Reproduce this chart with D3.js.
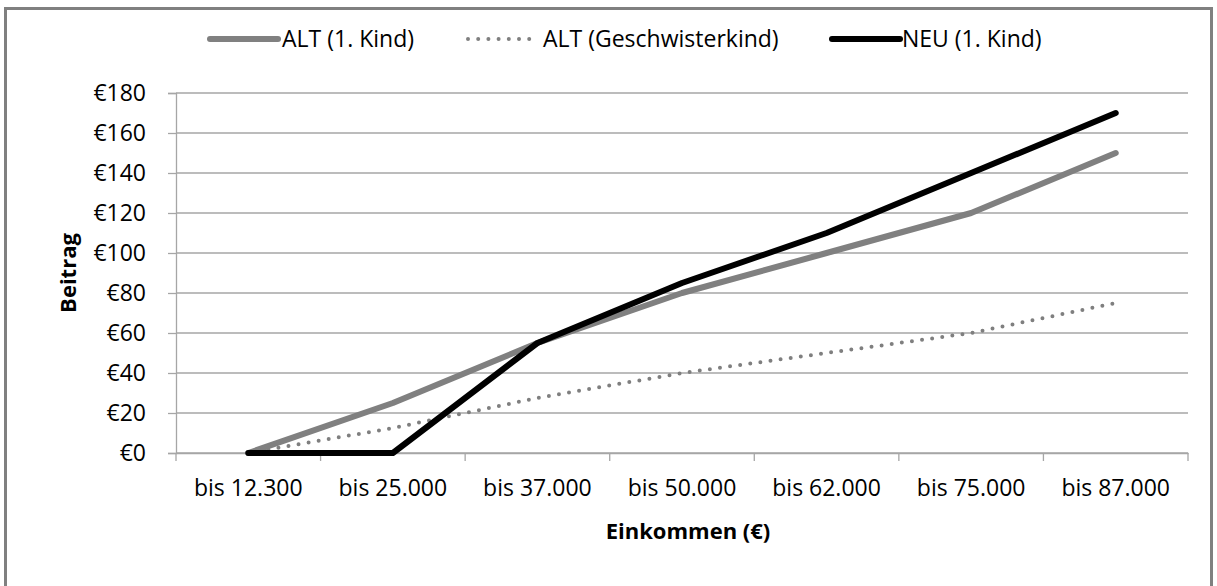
<!DOCTYPE html>
<html><head><meta charset="utf-8">
<script src="https://cdn.jsdelivr.net/npm/d3@7"></script>
<style>
html,body{margin:0;padding:0;background:#fff;}
svg{display:block;}
text{font-family:"Open Sans","Liberation Sans",sans-serif;fill:#000;}
</style></head>
<body>
<script>
const categories = ["bis 12.300","bis 25.000","bis 37.000","bis 50.000","bis 62.000","bis 75.000","bis 87.000"];
const altFirst = [0, 25, 55, 80, 100, 120, 150];
const altSibling = [0, 12.5, 27.5, 40, 50, 60, 75];
const neuFirst = [0, 0, 55, 85, 110, 140, 170];
const yTicks = [0,20,40,60,80,100,120,140,160,180];
const seriesNames = ["ALT (1. Kind)","ALT (Geschwisterkind)","NEU (1. Kind)"];

(function(){
const W = 1217, H = 586;
const FS = 23;
const svg = d3.select("body").append("svg").attr("width", W).attr("height", H);

// frame
svg.append("rect").attr("x", 5.5).attr("y", 8.5).attr("width", 1206).attr("height", 600)
  .attr("fill", "none").attr("stroke", "#808080").attr("stroke-width", 3);

const pL = 176, pR = 1188, pT = 93, pB = 453;
const x = d3.scaleBand().domain(categories).range([pL, pR]).padding(0);
const y = d3.scaleLinear().domain([0, 180]).range([pB, pT]);

// gridlines
svg.append("g").selectAll("line").data(yTicks).join("line")
  .attr("x1", pL).attr("x2", pR)
  .attr("y1", d => y(d)).attr("y2", d => y(d))
  .attr("stroke", "#a6a6a6").attr("stroke-width", 1.3);

// y axis
const yAxis = svg.append("g").attr("transform", `translate(${pL},0)`)
  .call(d3.axisLeft(y).tickValues(yTicks).tickSize(8).tickPadding(22).tickFormat(d => "€" + d));
yAxis.select(".domain").attr("stroke", "#a6a6a6").attr("stroke-width", 1.3);
yAxis.selectAll(".tick line").attr("stroke", "#a6a6a6").attr("stroke-width", 1.3);
yAxis.selectAll("text").attr("font-size", FS).attr("fill", "#222").attr("font-family", "'Open Sans',sans-serif");

// x axis
const xAxis = svg.append("g").attr("transform", `translate(0,${pB})`)
  .call(d3.axisBottom(x).tickSize(0).tickPadding(27));
xAxis.select(".domain").attr("stroke", "#a6a6a6").attr("stroke-width", 1.3);
xAxis.selectAll("text").attr("font-size", FS).attr("fill", "#222")
  .attr("font-family", "'Open Sans',sans-serif");
const bounds = categories.map(c => x(c)).concat([x(categories[categories.length-1]) + x.bandwidth()]);
svg.append("g").selectAll("line").data(bounds).join("line")
  .attr("x1", d => d).attr("x2", d => d).attr("y1", pB).attr("y2", pB + 8)
  .attr("stroke", "#a6a6a6").attr("stroke-width", 1.3);

const cx = c => x(c) + x.bandwidth() / 2;
const line = d3.line().x((d, i) => cx(categories[i])).y(d => y(d));

svg.append("path").datum(altSibling).attr("d", line).attr("fill", "none")
  .attr("stroke", "#7f7f7f").attr("stroke-width", 4).attr("stroke-linecap", "round")
  .attr("stroke-dasharray", "0 10.2");
svg.append("path").datum(altFirst).attr("d", line).attr("fill", "none")
  .attr("stroke", "#808080").attr("stroke-width", 6).attr("stroke-linecap", "round").attr("stroke-linejoin", "round");
svg.append("path").datum(neuFirst).attr("d", line).attr("fill", "none")
  .attr("stroke", "#000").attr("stroke-width", 6).attr("stroke-linecap", "round").attr("stroke-linejoin", "round");

// legend
const legY = 39;
const legend = [
  {name: seriesNames[0], x1: 210, x2: 278, tx: 282, color: "#808080", w: 6, dash: null},
  {name: seriesNames[1], x1: 468, x2: 532, tx: 543, color: "#7f7f7f", w: 4, dash: "0 10.2"},
  {name: seriesNames[2], x1: 832, x2: 900, tx: 902, color: "#000", w: 6, dash: null}
];
const lg = svg.append("g");
legend.forEach(l => {
  lg.append("line").attr("x1", l.x1).attr("x2", l.x2).attr("y1", legY).attr("y2", legY)
    .attr("stroke", l.color).attr("stroke-width", l.w).attr("stroke-linecap", "round")
    .attr("stroke-dasharray", l.dash);
  lg.append("text").attr("x", l.tx).attr("y", legY).attr("dy", "0.35em")
    .attr("font-size", FS).attr("fill", "#222").text(l.name);
});

// axis titles
svg.append("text").attr("x", 688).attr("y", 531).attr("dy", "0.35em").attr("text-anchor", "middle")
  .attr("font-size", 22).attr("font-weight", "bold").text("Einkommen (€)");
svg.append("text").attr("transform", "translate(68,273) rotate(-90)").attr("dy", "0.35em")
  .attr("text-anchor", "middle").attr("font-size", 22).attr("font-weight", "bold").text("Beitrag");
})();
</script>
</body></html>
